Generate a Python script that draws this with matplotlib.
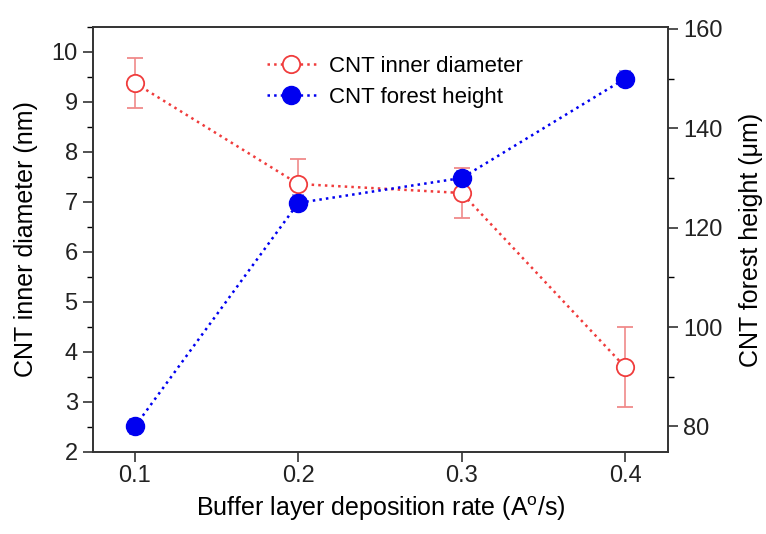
import matplotlib
matplotlib.use("Agg")
import matplotlib.pyplot as plt
from matplotlib.ticker import MultipleLocator
from matplotlib.lines import Line2D

plt.rcParams['font.family'] = ['Liberation Sans', 'DejaVu Sans']
plt.rcParams['mathtext.fontset'] = 'custom'
plt.rcParams['mathtext.rm'] = 'Liberation Sans'

rate = [0.1, 0.2, 0.3, 0.4]
diameter = [9.38, 7.36, 7.18, 3.70]
diameter_err = [0.5, 0.5, 0.5, 0.8]
height = [80, 125, 130, 150]
height_err = [1.5, 1.5, 1.5, 1.5]

fig = plt.figure(figsize=(7.66, 5.34), dpi=100)
ax = fig.add_axes([93/766, 1-452/534, (668-93)/766, (452-27)/534])
ax2 = ax.twinx()

red = '#f03c3c'
red_err = '#f08a8a'
blue = '#0000f0'
blue_err = '#8080e0'

ax.errorbar(rate, diameter, yerr=diameter_err, color=red, ls=':', lw=1.8,
            marker='o', ms=12.5, mfc='white', mec=red, mew=1.3,
            ecolor=red_err, elinewidth=1.2, capsize=6, capthick=1.2, zorder=3)
ax2.errorbar(rate, height, yerr=height_err, color=blue, ls=':', lw=1.8,
             marker='o', ms=13, mfc=blue, mec=blue,
             ecolor=blue_err, elinewidth=1.2, capsize=4, capthick=1.2, zorder=3)

ax.set_xlim(0.0743, 0.4263)
ax.set_ylim(2, 10.5)
ax2.set_ylim(74.85, 160.4)

ax.set_xticks(rate)
ax.set_xticklabels(['0.1', '0.2', '0.3', '0.4'])
ax.yaxis.set_major_locator(MultipleLocator(1))
ax.yaxis.set_minor_locator(MultipleLocator(0.5))
ax2.yaxis.set_major_locator(MultipleLocator(20))
ax2.yaxis.set_minor_locator(MultipleLocator(10))

for a in (ax, ax2):
    a.tick_params(axis='both', which='major', direction='out', length=7, width=1.1,
                  labelsize=17, colors='#222222', pad=4)
    a.tick_params(axis='both', which='minor', direction='out', length=4, width=1.0)
    for s in a.spines.values():
        s.set_linewidth(1.2)
        s.set_color('#333333')
ax.tick_params(axis='x', which='major', pad=2)

ax.set_xlabel('Buffer layer deposition rate (A$^{\\mathregular{o}}$/s)', fontsize=18, labelpad=6)
ax.set_ylabel('CNT inner diameter (nm)', fontsize=18, labelpad=10)
ax2.set_ylabel('CNT forest height (\u03bcm)', fontsize=18, labelpad=12)

h1 = Line2D([], [], color=red, ls=':', lw=1.8, marker='o', ms=12.5, mfc='white', mec=red, mew=1.3)
h2 = Line2D([], [], color=blue, ls=':', lw=1.8, marker='o', ms=13, mfc=blue, mec=blue)
leg = ax.legend([h1, h2], ['CNT inner diameter', 'CNT forest height'],
                loc='upper center', bbox_to_anchor=(0.525, 0.98), frameon=False,
                fontsize=16, handlelength=2.2, handletextpad=0.6, labelspacing=0.45)

fig.savefig('out.png', dpi=100)
